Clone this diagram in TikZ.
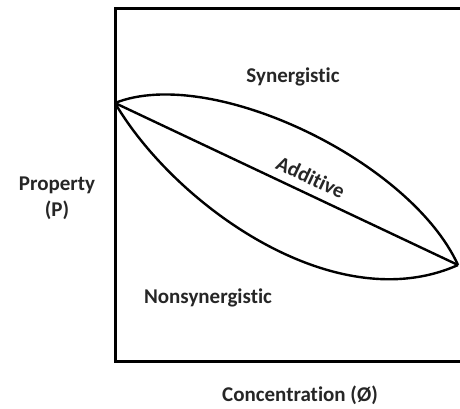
\documentclass[tikz,border=0pt]{standalone}
\usepackage{fontspec}
\setmainfont{Carlito}[Ligatures=NoCommon]
\usepackage{tikz}

\begin{document}
\begin{tikzpicture}
[x=0.5pt,y=-0.5pt]
\tikzset{lbl/.style={font=\fontsize{10.5}{13}\selectfont\bfseries,text=black!85,inner sep=1pt}}
\tikzset{crv/.style={line width=1.2pt}}
\useasboundingbox (0,0) rectangle (460,408);
\coordinate (c1) at (460,8);
\coordinate (c2) at (115,8);
\coordinate (c3) at (115,361);
\coordinate (c4) at (460,361);
\coordinate (s) at (115,103);
\coordinate (e) at (458,265);

\draw [line width=1.5pt] (c1) -- (c2) -- (c3) -- (c4);

\draw [crv] (s) .. controls (210,65) and (410,160) .. (e);
\draw [crv] (s) .. controls (175,205) and (335,320) .. (e);
\draw [crv] (s) -- node [lbl,pos=0.55,above=3pt,sloped] (add) {Additive} (e);

\node [lbl] (syn) at (293,77) {Synergistic};
\node [lbl] (non) at (208,298) {Nonsynergistic};
\node [lbl,align=center] (prop) at (57,198) {Property\\(P)};
\node [lbl] (conc) at (300,395) {Concentration (Ø)};

\end{tikzpicture}
\end{document}
